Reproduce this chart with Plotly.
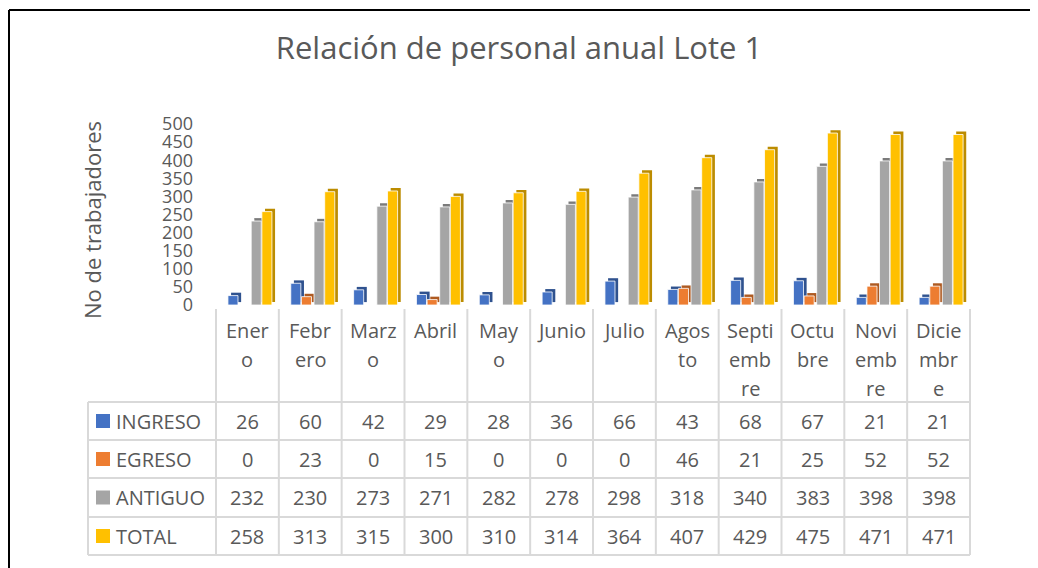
import plotly.graph_objects as go

# ---- data ----
months = ["Enero", "Febrero", "Marzo", "Abril", "Mayo", "Junio", "Julio",
          "Agosto", "Septiembre", "Octubre", "Noviembre", "Diciembre"]
month_labels = ["Ener<br>o", "Febr<br>ero", "Marz<br>o", "Abril", "May<br>o", "Junio", "Julio",
                "Agos<br>to", "Septi<br>emb<br>re", "Octu<br>bre", "Novi<br>emb<br>re", "Dicie<br>mbr<br>e"]
ingreso = [26, 60, 42, 29, 28, 36, 66, 43, 68, 67, 21, 21]
egreso = [0, 23, 0, 15, 0, 0, 0, 46, 21, 25, 52, 52]
antiguo = [232, 230, 273, 271, 282, 278, 298, 318, 340, 383, 398, 398]
total = [258, 313, 315, 300, 310, 314, 364, 407, 429, 475, 471, 471]
y_ticks = list(range(0, 501, 50))

# the page puts the figure 8px in from the corner, so work in window pixels
OFF = 8
W, H = 1038 - OFF, 568 - OFF
TEXT = "#595959"
GRID = "#D9D9D9"
FONT = "Open Sans"


def px(x):
    return (x - OFF) / W


def py(y):
    return 1 - (y - OFF) / H


# series: name, values, front colour, side colour, bar offset
series = [
    ("INGRESO", ingreso, "#4472C4", "#2F528F", -0.31),
    ("EGRESO", egreso, "#ED7D31", "#AE5A21", -0.14),
    ("ANTIGUO", antiguo, "#A5A5A5", "#7B7B7B", 0.06),
    ("TOTAL", total, "#FFC000", "#BC8C00", 0.23),
]
bar_w = 0.16

fig = go.Figure()

# darker back face first (gives the 3D column look), then the front face
for name, vals, col, dark, off in series:
    fig.add_trace(go.Bar(
        x=months, y=vals, base=8, offset=off + 0.05, width=bar_w,
        marker=dict(color=dark, line=dict(width=0)),
        showlegend=False, hoverinfo="skip",
    ))
for name, vals, col, dark, off in series:
    fig.add_trace(go.Bar(
        x=months, y=vals, name=name, offset=off, width=bar_w,
        marker=dict(color=col, line=dict(color="white", width=0.8)),
        showlegend=False,
    ))

shapes = []
annotations = []

# outer frame (left and top edges only are visible)
shapes.append(dict(type="line", xref="paper", yref="paper",
                   x0=px(9), y0=-0.05, x1=px(9), y1=py(10),
                   line=dict(color="black", width=2)))
shapes.append(dict(type="line", xref="paper", yref="paper",
                   x0=px(9), y0=py(10), x1=1.05, y1=py(10),
                   line=dict(color="black", width=2)))

# data table grid
tbl_left, tbl_x0, tbl_x1 = 88, 216, 970
head_top = 309
row_edges = [402, 440, 478, 517, 555]
col_w = (tbl_x1 - tbl_x0) / len(months)
for i in range(len(months) + 1):
    xx = tbl_x0 + i * col_w
    shapes.append(dict(type="line", xref="paper", yref="paper",
                       x0=px(xx), y0=py(head_top), x1=px(xx), y1=py(row_edges[-1]),
                       line=dict(color=GRID, width=2)))
shapes.append(dict(type="line", xref="paper", yref="paper",
                   x0=px(tbl_left), y0=py(row_edges[0]), x1=px(tbl_left), y1=py(row_edges[-1]),
                   line=dict(color=GRID, width=2)))
for ry in row_edges:
    shapes.append(dict(type="line", xref="paper", yref="paper",
                       x0=px(tbl_left), y0=py(ry), x1=px(tbl_x1), y1=py(ry),
                       line=dict(color=GRID, width=2)))

# month header labels, one annotation per wrapped line
line_y = [330, 359, 388]
for m, lab in zip(months, month_labels):
    for k, part in enumerate(lab.split("<br>")):
        annotations.append(dict(x=m, y=py(line_y[k]), xref="x", yref="paper",
                                text=part, showarrow=False,
                                xanchor="center", yanchor="middle",
                                font=dict(family=FONT, size=20, color=TEXT)))

# table rows: legend key + values
for r, (name, vals, col, dark, off) in enumerate(series):
    cy = (row_edges[r] + row_edges[r + 1]) / 2
    shapes.append(dict(type="rect", xref="paper", yref="paper",
                       x0=px(96), x1=px(110), y0=py(cy + 7), y1=py(cy - 7),
                       fillcolor=col, line=dict(width=0)))
    annotations.append(dict(x=px(114), y=py(cy), xref="paper", yref="paper",
                            text=name, showarrow=False,
                            xanchor="left", yanchor="middle",
                            font=dict(family=FONT, size=20, color=TEXT)))
    for m, v in zip(months, vals):
        annotations.append(dict(x=m, y=py(cy), xref="x", yref="paper",
                                text=str(v), showarrow=False,
                                xanchor="center", yanchor="middle",
                                font=dict(family=FONT, size=20, color=TEXT)))

# y axis title
annotations.append(dict(x=px(92), y=py(220), xref="paper", yref="paper",
                        text="No de trabajadores", textangle=-90, showarrow=False,
                        xanchor="center", yanchor="middle",
                        font=dict(family=FONT, size=22, color=TEXT)))

fig.update_layout(
    width=W, height=H,
    margin=dict(l=0, r=0, t=0, b=0),
    paper_bgcolor="white", plot_bgcolor="white",
    barmode="overlay",
    title=dict(text="Relación de personal anual Lote 1",
               x=px(519), y=py(48), xanchor="center", yanchor="middle",
               font=dict(family=FONT, size=31, color=TEXT)),
    xaxis=dict(domain=[px(tbl_x0), px(tbl_x1)], range=[-0.5, 11.5],
               showticklabels=False, showgrid=False, zeroline=False,
               showline=False, ticks="", automargin=False),
    yaxis=dict(domain=[py(305), py(124)], range=[0, 500],
               tickvals=y_ticks, showgrid=False, zeroline=False,
               showline=False, ticks="", ticklabelstandoff=22, automargin=False,
               tickfont=dict(family=FONT, size=18, color=TEXT)),
    shapes=shapes,
    annotations=annotations,
    showlegend=False,
)

fig.write_html("out.html")
